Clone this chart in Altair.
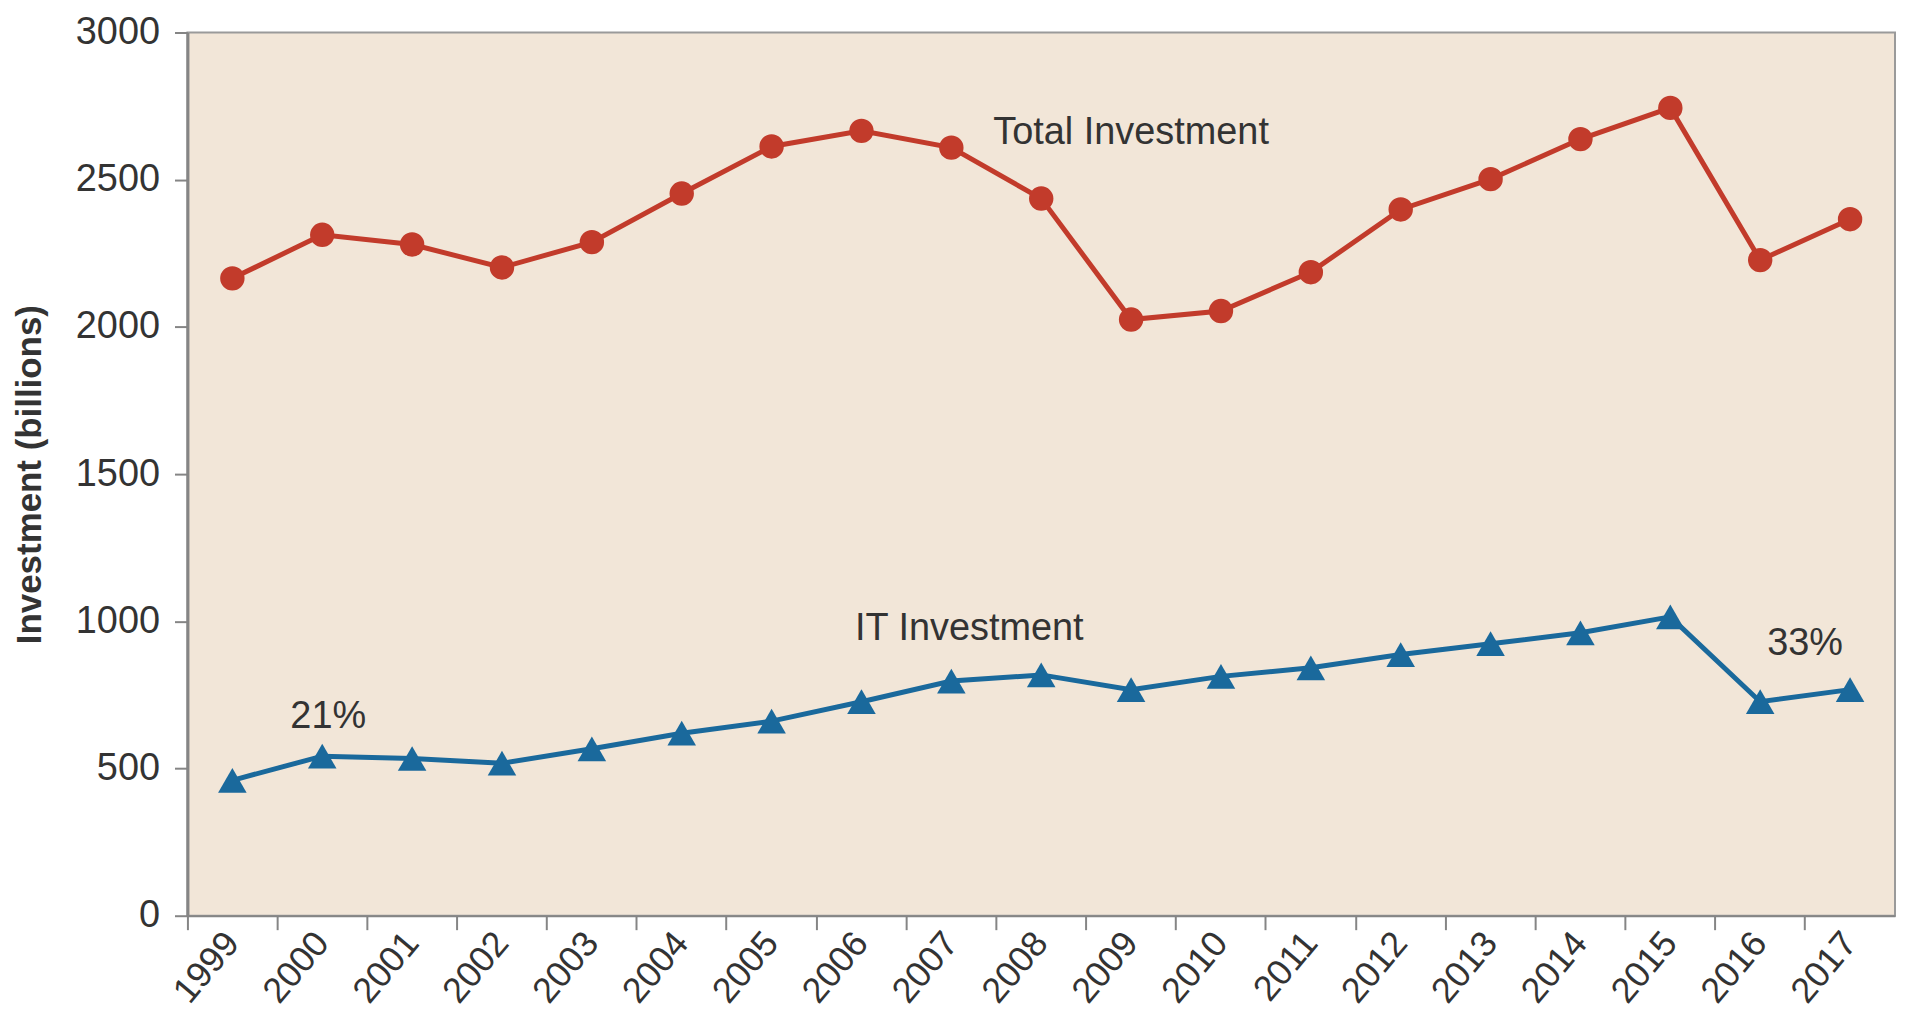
import altair as alt
import pandas as pd

years = [str(y) for y in range(1999, 2018)]
total_investment = [2165, 2313, 2280, 2202, 2288, 2453, 2613, 2666, 2609, 2436,
                    2025, 2054, 2186, 2399, 2502, 2638, 2744, 2227, 2366]
it_investment = [460, 542, 534, 518, 567, 620, 661, 727, 797, 818,
                 768, 813, 842, 887, 924, 961, 1015, 727, 768]
y_ticks = [0, 500, 1000, 1500, 2000, 2500, 3000]

ann_labels = ["Total Investment", "IT Investment", "21%", "33%"]
ann_years = ["2009", "2007", "2000", "2016"]
ann_values = [2660, 974, 676, 923]

RED = "#C23B2B"
BLUE = "#1A699C"
FONT = "Liberation Sans"
AXIS_GRAY = "#858585"
TEXT = "#333333"

df = pd.DataFrame({"year": years, "total": total_investment, "it": it_investment})

x_scale = alt.Scale(type="band", domain=years, paddingInner=0, paddingOuter=0)
x_axis = alt.Axis(
    title=None, bandPosition=0, labelAngle=-50, labelAlign="right",
    labelBaseline="middle", tickSize=14, tickWidth=2, tickColor=AXIS_GRAY,
    labelPadding=7, labelFontSize=36, labelFont=FONT, labelColor=TEXT,
    domainColor=AXIS_GRAY, domainWidth=2, grid=False,
)
y_scale = alt.Scale(domain=[0, 3000], nice=False)
y_axis = alt.Axis(
    values=y_ticks, format="d", title="Investment (billions)", grid=False,
    tickSize=13, tickWidth=2, tickColor=AXIS_GRAY,
    labelPadding=15, labelFontSize=38, labelFont=FONT, labelColor=TEXT,
    domainColor=AXIS_GRAY, domainWidth=3,
    titleFont=FONT, titleFontSize=35, titleFontWeight="bold", titleColor=TEXT,
    titleX=-158, titleY=443, titleAngle=-90, titleAlign="center",
    titleBaseline="middle",
)


def xe():
    return alt.X("year:O", sort=years, scale=x_scale, axis=x_axis, bandPosition=0.5)


def ye(field):
    return alt.Y(field, type="quantitative", scale=y_scale, axis=y_axis)


base = alt.Chart(df)
total_line = base.mark_line(color=RED, strokeWidth=5).encode(x=xe(), y=ye("total"))
total_pts = base.mark_circle(color=RED, size=600, opacity=1).encode(x=xe(), y=ye("total"))
it_line = base.mark_line(color=BLUE, strokeWidth=5).encode(x=xe(), y=ye("it"))
it_pts = base.mark_point(shape="triangle-up", filled=True, color=BLUE, size=820,
                         opacity=1).encode(x=xe(), y=ye("it"))

offsets = {"Total Investment": 0, "IT Investment": 18, "21%": 6, "33%": 45}
ann_layers = []
for lab, yr, val in zip(ann_labels, ann_years, ann_values):
    adf = pd.DataFrame({"year": [yr], "value": [val], "label": [lab]})
    ann_layers.append(
        alt.Chart(adf).mark_text(font=FONT, fontSize=38, color=TEXT, align="center",
                                 baseline="middle", dx=offsets[lab]).encode(
            x=xe(), y=ye("value"), text="label:N")
    )

chart = alt.layer(total_line, it_line, total_pts, it_pts, *ann_layers).properties(
    width=1713, height=886,
    padding={"left": 180, "top": 23, "right": 2, "bottom": 100},
    autosize="none",
    background="white",
).configure_view(fill="#F2E6D8", stroke="#9a9a9a", strokeWidth=2)

chart.save("out.html", embed_options={"renderer": "svg", "actions": False})
